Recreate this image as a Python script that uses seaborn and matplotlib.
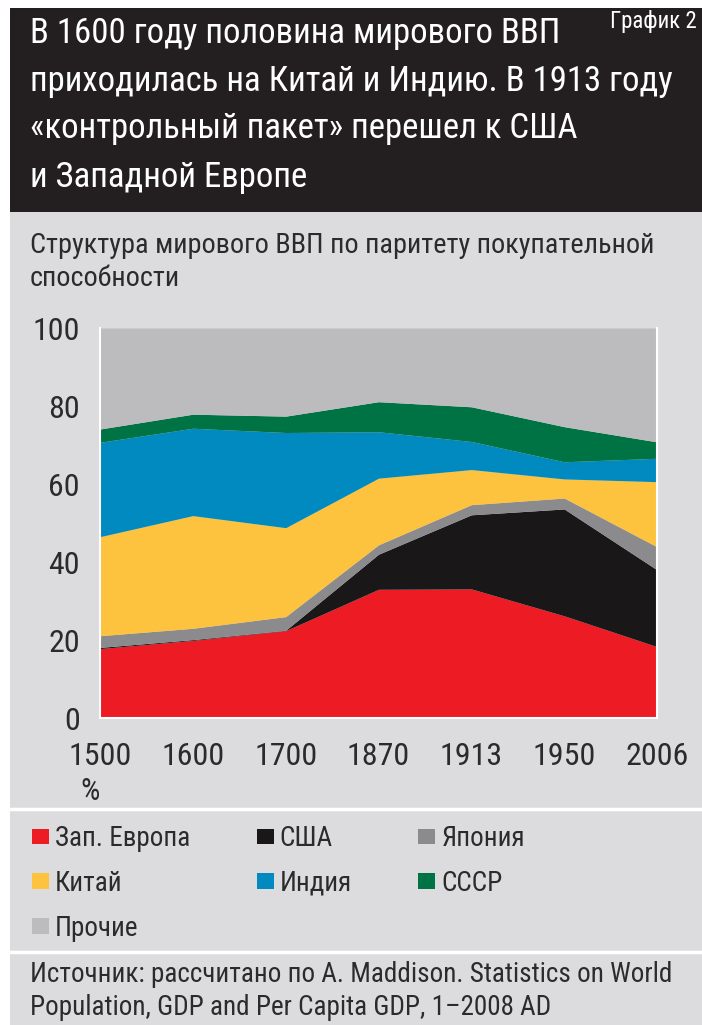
import matplotlib
matplotlib.use("Agg")
import matplotlib.pyplot as plt
from matplotlib.patches import Rectangle, Patch
from matplotlib.lines import Line2D
import seaborn as sns

# Share of world GDP (PPP), %
years = ["1500", "1600", "1700", "1870", "1913", "1950", "2006"]
west_europe = [17.8, 19.9, 22.4, 33.0, 33.1, 26.2, 18.3]
usa = [0.3, 0.2, 0.1, 9.0, 19.0, 27.4, 19.7]
japan = [3.0, 2.9, 3.5, 2.4, 2.6, 2.8, 5.9]
china = [25.4, 28.9, 22.8, 17.1, 9.0, 4.9, 16.7]
india = [24.2, 22.4, 24.4, 11.9, 7.2, 4.4, 6.0]
ussr = [3.4, 3.6, 4.2, 7.7, 8.9, 9.0, 4.2]
others = [25.9, 22.1, 22.6, 18.9, 20.2, 25.3, 29.2]

labels = ["Зап. Европа", "США", "Япония", "Китай", "Индия", "СССР", "Прочие"]
colors = ["#ed1c24", "#1a1718", "#8b8b8d", "#fdc23e", "#008abf", "#007344", "#bcbcbe"]

title_lines = ["В 1600 году половина мирового ВВП",
               "приходилась на Китай и Индию. В 1913 году",
               "«контрольный пакет» перешел к США",
               "и Западной Европе"]
subtitle_lines = ["Структура мирового ВВП по паритету покупательной", "способности"]
source_lines = ["Источник: рассчитано по А. Maddison. Statistics on World",
                "Population, GDP and Per Capita GDP, 1–2008 AD"]

sns.set_style("white")
plt.rcParams["font.family"] = ["Roboto Condensed", "PT Sans Narrow", "Liberation Sans Narrow", "DejaVu Sans"]

bg = "#dcdcde"
txt = "#2b2b2b"

fig = plt.figure(figsize=(7.02, 10.25), dpi=100)
fig.patch.set_facecolor("white")

W, H = 702.0, 1025.0
def fx(px):
    return px / W
def fy(py):
    return 1 - py / H

# background panels
fig.add_artist(Rectangle((fx(10), 0), 1 - fx(10), fy(212), transform=fig.transFigure,
                         facecolor=bg, edgecolor="none", zorder=0))
fig.add_artist(Rectangle((fx(10), fy(212)), 1 - fx(10), fy(8) - fy(212), transform=fig.transFigure,
                         facecolor="#231f20", edgecolor="none", zorder=0))
for yy in [809, 952]:
    fig.add_artist(Line2D([fx(10), 1], [fy(yy), fy(yy)], transform=fig.transFigure,
                          color="white", lw=2.5, zorder=1))

# header
for line, base in zip(title_lines, [43, 91, 138, 187]):
    fig.text(fx(30), fy(base), line, color="white", fontsize=25, va="baseline", ha="left")
fig.text(fx(697), fy(28), "График 2", color="white", fontsize=16.5, va="baseline", ha="right")

for line, base in zip(subtitle_lines, [253, 286]):
    fig.text(fx(30), fy(base), line, color=txt, fontsize=20.3, va="baseline", ha="left")

# stacked area
ax = fig.add_axes([fx(100), fy(718), fx(657) - fx(100), fy(328) - fy(718)])
ax.set_facecolor(bg)
x = list(range(len(years)))
ax.stackplot(x, west_europe, usa, japan, china, india, ussr, others,
             colors=colors, labels=labels, linewidth=0)
ax.set_xlim(0, len(years) - 1)
ax.set_ylim(0, 100)
ax.set_xticks(x)
ax.set_xticklabels(years)
ax.set_yticks([0, 20, 40, 60, 80, 100])
ax.tick_params(axis="both", colors="white", labelcolor=txt, labelsize=23, width=1.5)
ax.tick_params(axis="y", length=7.5, pad=7)
ax.tick_params(axis="x", length=9, pad=8)
for s in ax.spines.values():
    s.set_color("white")
    s.set_linewidth(1.5)
ax.spines["top"].set_visible(False)

fig.text(fx(90), fy(791), "%", color=txt, fontsize=22, va="center", ha="center")

# legend
handles = [Patch(facecolor=c, edgecolor="none") for c in colors]
order = [0, 3, 6, 1, 4, 2, 5]
fig.legend([handles[i] for i in order], [labels[i] for i in order],
           loc="upper left", bbox_to_anchor=(fx(32), fy(825)), ncol=3, frameon=False,
           borderpad=0, borderaxespad=0,
           fontsize=19.5, handlelength=0.63, handleheight=0.52, handletextpad=0.22,
           columnspacing=2.45, labelspacing=0.66, labelcolor=txt)

for line, base in zip(source_lines, [982, 1015]):
    fig.text(fx(30), fy(base), line, color=txt, fontsize=19.5, va="baseline", ha="left")

fig.savefig("out.png", dpi=100, facecolor=fig.get_facecolor())
